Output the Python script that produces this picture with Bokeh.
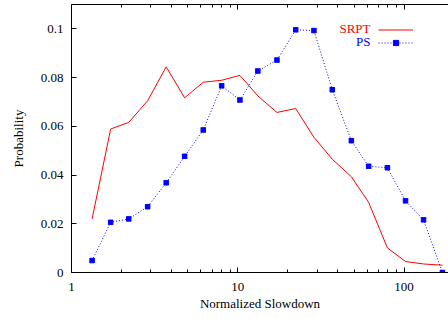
from bokeh.plotting import figure
from bokeh.models import (FixedTicker, PrintfTickFormatter, LogAxis, Legend,
                          LegendItem, Range1d, Label)
from bokeh.embed import file_html
from bokeh.resources import INLINE

# ---- data ----
slowdown = [1.33, 1.72, 2.21, 2.87, 3.71, 4.79, 6.2, 8.0, 10.3, 13.2,
            17.2, 22.3, 28.7, 37.0, 48.2, 61.2, 79.4, 102, 131, 170]
srpt = [0.022, 0.0589, 0.0616, 0.0705, 0.0844, 0.0717, 0.0781, 0.0789, 0.0809, 0.0725,
        0.0657, 0.0673, 0.0555, 0.0465, 0.0393, 0.0288, 0.0101, 0.0045, 0.0035, 0.003]
ps = [0.0049, 0.0206, 0.022, 0.027, 0.0368, 0.0477, 0.0585, 0.0766, 0.0708, 0.0827,
      0.0872, 0.0996, 0.0993, 0.075, 0.0541, 0.0436, 0.043, 0.0294, 0.0216, 0.0]
series_names = ["SRPT", "PS"]

x_major = [1, 10, 100]
x_minor = [2, 3, 4, 5, 6, 7, 8, 9, 20, 30, 40, 50, 60, 70, 80, 90, 200]
y_major = [0, 0.02, 0.04, 0.06, 0.08, 0.1]

FONT = "Liberation Serif"
FS = "13px"
RED = "#ff0000"
BLUE = "#0000ff"

p = figure(width=448, height=318, x_axis_type="log",
           x_range=Range1d(1, 185), y_range=Range1d(0, 0.11),
           output_backend="svg", toolbar_location=None,
           min_border_left=71, min_border_right=0, min_border_top=4,
           min_border_bottom=46)
p.outline_line_color = None
p.background_fill_color = "white"
p.border_fill_color = "white"
p.grid.visible = False

xa = p.xaxis[0]
xa.ticker = FixedTicker(ticks=x_major, minor_ticks=x_minor)
xa.formatter = PrintfTickFormatter(format="%g")
xa.axis_label = "Normalized Slowdown"
ya = p.yaxis[0]
ya.ticker = FixedTicker(ticks=y_major, minor_ticks=[])
ya.formatter = PrintfTickFormatter(format="%g")
ya.axis_label = "Probability"

for ax in (xa, ya):
    ax.major_tick_in = 5
    ax.major_tick_out = 0
    ax.minor_tick_in = 3
    ax.minor_tick_out = 0
    ax.axis_line_color = "black"
    ax.major_tick_line_color = "black"
    ax.minor_tick_line_color = "black"
    ax.major_label_text_font = FONT
    ax.major_label_text_font_size = FS
    ax.major_label_text_color = "black"
    ax.axis_label_text_font = FONT
    ax.axis_label_text_font_size = FS
    ax.axis_label_text_font_style = "normal"
    ax.axis_label_text_color = "black"

xa.major_label_standoff = 10
xa.axis_label_standoff = 2
ya.major_label_standoff = 8
ya.axis_label_standoff = 12

top = LogAxis(ticker=FixedTicker(ticks=x_major, minor_ticks=x_minor),
              major_tick_in=5, major_tick_out=0, minor_tick_in=3, minor_tick_out=0,
              major_label_text_font_size="1px", major_label_text_alpha=0,
              major_label_standoff=0, axis_line_color="black")
p.add_layout(top, "above")

r_srpt = p.line(slowdown, srpt, line_color=RED, line_width=1)
r_ps = p.line(slowdown, ps, line_color=BLUE, line_width=1, line_dash="1 2")
r_psm = p.scatter(slowdown, ps, marker="square_x", size=4.5,
                  fill_color=BLUE, line_color=BLUE)

# legend: sample glyphs via Legend, right-aligned coloured texts on their left
def make_legend(name, color, renderers, row):
    lg = Legend(items=[LegendItem(label=" ", renderers=renderers)],
                location=(307, 236.5 - 13 * row), orientation="vertical",
                glyph_width=35, glyph_height=13, label_height=13,
                label_standoff=0, label_text_font=FONT, label_text_font_size=FS,
                padding=0, margin=0, spacing=0,
                border_line_color=None, background_fill_alpha=0)
    p.add_layout(lg, "center")
    p.add_layout(Label(x=299, y=244 - 13 * row, x_units="screen", y_units="screen",
                       text=name, text_align="right", text_baseline="middle",
                       text_font=FONT, text_font_size=FS, text_color=color))

make_legend(series_names[0], RED, [r_srpt], 0)
make_legend(series_names[1], BLUE, [r_ps, r_psm], 1)

open("out.html", "w").write(file_html(p, INLINE))
